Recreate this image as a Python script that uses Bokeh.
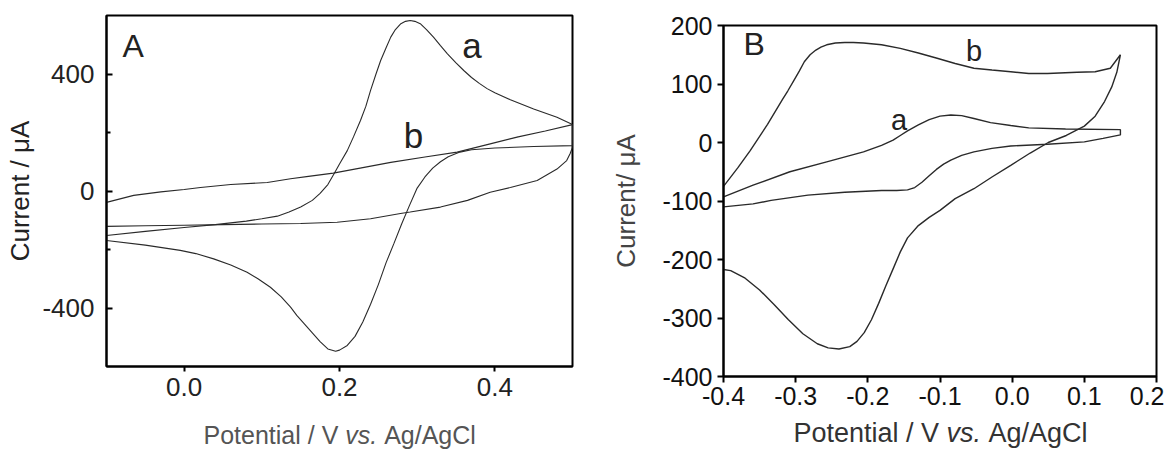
from bokeh.plotting import figure
from bokeh.layouts import row, column
from bokeh.models import FixedTicker, NumeralTickFormatter, Label, Range1d, Spacer
from bokeh.core.properties import value
from bokeh.embed import file_html
from bokeh.resources import INLINE

FONT = "Liberation Sans"

# ---------------- Panel A data (Potential V, Current uA) ----------------
A_a_fwd_v = [-0.1, -0.05, 0.0, 0.04, 0.08, 0.1, 0.12, 0.135, 0.15, 0.165, 0.175, 0.185, 0.193,
             0.2, 0.21, 0.218, 0.227, 0.234, 0.24, 0.247, 0.253, 0.26, 0.266, 0.272, 0.279,
             0.285, 0.291, 0.297, 0.304, 0.312, 0.321, 0.33, 0.339, 0.35, 0.36, 0.37, 0.38,
             0.39, 0.40, 0.42, 0.45, 0.48, 0.5]
A_a_fwd_i = [-152, -138, -125, -115, -103, -95, -86, -72, -55, -32, -8, 22, 59,
             92, 138, 185, 241, 290, 344, 400, 446, 490, 526, 552, 572,
             580, 583, 580, 572, 552, 526, 497, 469, 438, 412, 388, 368,
             350, 336, 312, 280, 252, 227]
A_a_rev_v = [0.5, 0.45, 0.40, 0.37, 0.355, 0.34, 0.33, 0.32, 0.31, 0.30, 0.29, 0.28, 0.27,
             0.26, 0.25, 0.24, 0.23, 0.22, 0.21, 0.2, 0.195, 0.185, 0.175, 0.165, 0.155,
             0.145, 0.137, 0.125, 0.111, 0.095, 0.081, 0.06, 0.038, 0.015, -0.005, -0.05, -0.1]
A_a_rev_i = [155, 152, 147, 141, 133, 117, 100, 78, 48, 10, -50, -113, -180,
             -245, -320, -387, -448, -497, -528, -544, -548, -540, -515, -485, -455,
             -425, -397, -362, -329, -300, -278, -253, -232, -214, -203, -185, -169]

A_b_fwd_v = [-0.1, -0.065, -0.03, 0.0, 0.021, 0.06, 0.107, 0.137, 0.16, 0.192, 0.23, 0.266,
             0.31, 0.3515, 0.394, 0.43, 0.465, 0.5]
A_b_fwd_i = [-39, -15, -3, 5, 12, 22, 29, 42, 50, 61, 80, 98, 116, 133, 161, 185, 205, 227]
A_b_rev_v = [0.5, 0.497, 0.4925, 0.48, 0.4545, 0.42, 0.394, 0.3648, 0.33, 0.291, 0.2785, 0.24,
             0.197, 0.15, 0.1, 0.05, 0.0, -0.05, -0.1]
A_b_rev_i = [149, 128, 104, 75, 36, 12, -4, -32, -55, -72, -77, -95, -107, -111, -113, -115,
             -117, -119, -121]

A_x_ticks = [0.0, 0.2, 0.4]
A_y_ticks = [-400, 0, 400]
A_y_minor = [-200, 200]

# ---------------- Panel B data ----------------
B_b_fwd_v = [-0.4, -0.39, -0.37, -0.35, -0.33, -0.31, -0.29, -0.27, -0.255, -0.24, -0.225,
             -0.215, -0.205, -0.195, -0.185, -0.175, -0.165, -0.155, -0.145, -0.13, -0.115,
             -0.1, -0.079, -0.053, -0.028, -0.002, 0.025, 0.05, 0.075, 0.1, 0.115, 0.128,
             0.138, 0.145, 0.15]
B_b_fwd_i = [-217, -219, -232, -252, -277, -303, -327, -344, -351, -353, -349,
             -340, -325, -303, -275, -245, -216, -187, -163, -142, -128,
             -116, -96, -79, -59, -39, -18, 0, 12, 28, 45, 70,
             95, 120, 150]
B_b_rev_v = [0.15, 0.136, 0.115, 0.09, 0.049, 0.023, -0.002, -0.028, -0.053, -0.079, -0.104,
             -0.13, -0.155, -0.181, -0.206, -0.22, -0.232, -0.245, -0.257, -0.265, -0.272,
             -0.28, -0.288, -0.295, -0.303, -0.311, -0.318, -0.339, -0.363, -0.38, -0.4]
B_b_rev_i = [150, 127, 121, 120, 118, 118, 121, 124, 127, 135, 144,
             153, 161, 167, 170, 171, 171, 170, 167, 163, 158,
             150, 138, 122, 105, 88, 74, 31, -14, -43, -75]

B_a_fwd_v = [-0.4, -0.359, -0.308, -0.257, -0.206, -0.181, -0.165, -0.155, -0.145, -0.13,
             -0.115, -0.1, -0.085, -0.07, -0.053, -0.03, -0.002, 0.023, 0.074, 0.15]
B_a_fwd_i = [-93, -73, -50, -33, -16, -5, 4, 12, 20, 30, 39, 45, 47, 46, 41, 34, 29, 25, 23, 22]
B_a_rev_v = [0.15, 0.126, 0.1, 0.049, -0.002, -0.028, -0.053, -0.07, -0.085, -0.095, -0.105,
             -0.115, -0.125, -0.135, -0.145, -0.16, -0.181, -0.232, -0.283, -0.334, -0.359, -0.4]
B_a_rev_i = [13, 7, 1, -3, -6, -10, -16, -22, -30, -37, -46,
             -57, -68, -77, -81, -82, -82, -85, -90, -99, -105, -110]

B_x_ticks = [-0.4, -0.3, -0.2, -0.1, 0.0, 0.1, 0.2]
B_y_ticks = [-400, -300, -200, -100, 0, 100, 200]

X_TITLE_PARTS = ["Potential / V", "vs.", "Ag/AgCl"]
X_TITLE_STYLES = ["normal", "italic", "normal"]


def base_fig(width, height, xr, yr, mb_left, mb_right, mb_top, mb_bottom):
    p = figure(width=width, height=height, x_range=Range1d(*xr), y_range=Range1d(*yr),
               output_backend="svg", toolbar_location=None, title=None,
               min_border_left=mb_left, min_border_right=mb_right,
               min_border_top=mb_top, min_border_bottom=mb_bottom)
    p.grid.visible = False
    p.outline_line_color = "black"
    p.outline_line_width = 2
    p.background_fill_color = "white"
    p.border_fill_color = "white"
    for ax in (p.xaxis[0], p.yaxis[0]):
        ax.axis_line_width = 2
        ax.axis_line_color = "black"
        ax.major_tick_line_width = 2
        ax.minor_tick_line_width = 2
        ax.major_label_text_font = FONT
        ax.axis_label_text_font = FONT
        ax.axis_label_text_font_style = "normal"
    return p


def title_strip(width, height, xrange, mb_left, mb_right, xs, ybase, size, color):
    s = figure(width=width, height=height, x_range=xrange, y_range=Range1d(0, height),
               output_backend="svg", toolbar_location=None, title=None,
               x_axis_type=None, y_axis_type=None,
               min_border_left=mb_left, min_border_right=mb_right,
               min_border_top=0, min_border_bottom=0)
    s.grid.visible = False
    s.outline_line_color = None
    s.background_fill_color = "white"
    s.border_fill_color = "white"
    for xpos, txt, style in zip(xs, X_TITLE_PARTS, X_TITLE_STYLES):
        s.text(x=[xpos], y=[ybase], text=[txt], text_font=value(FONT),
               text_font_size=value(size), text_font_style=value(style),
               text_color=color, text_align=value("left"), text_baseline=value("alphabetic"))
    return s


# ---------------- Panel A ----------------
pA = base_fig(590, 408, (-0.1, 0.5), (-600, 600), 106, 18, 15, 42)
pA.line(A_a_fwd_v + A_a_rev_v, A_a_fwd_i + A_a_rev_i, line_color="#2a2a2a", line_width=1.1)
pA.line(A_b_fwd_v + A_b_rev_v, A_b_fwd_i + A_b_rev_i, line_color="#2a2a2a", line_width=1.1)

xa = pA.xaxis[0]
xa.ticker = FixedTicker(ticks=A_x_ticks, minor_ticks=[])
xa.formatter = NumeralTickFormatter(format="0.0")
xa.major_tick_in = 0
xa.major_tick_out = 5
xa.major_label_standoff = 6
xa.major_label_text_font_size = "26px"
xa.major_label_text_color = "#222222"

ya = pA.yaxis[0]
ya.ticker = FixedTicker(ticks=A_y_ticks, minor_ticks=A_y_minor)
ya.major_label_overrides = {t: str(t) for t in A_y_ticks}
ya.major_tick_in = 6
ya.major_tick_out = 0
ya.minor_tick_in = 4
ya.minor_tick_out = 0
ya.major_label_standoff = 12
ya.major_label_text_font_size = "26px"
ya.major_label_text_color = "#222222"
ya.axis_label = "Current / \u03bcA"
ya.axis_label_text_font_size = "26px"
ya.axis_label_text_color = "#222222"
ya.axis_label_standoff = 4

for x, y, t, fs in [(-0.0794, 497, "A", "32px"), (0.358, 497, "a", "35px"), (0.2828, 190, "b", "35px")]:
    pA.add_layout(Label(x=x, y=y, text=t, text_font=FONT, text_font_size=fs,
                        text_baseline="alphabetic", text_align="left", text_color="#222222"))

stripA = title_strip(590, 41, pA.x_range, 106, 18, [0.0249, 0.2074, 0.2575], 15, "25px", "#555555")

# ---------------- Panel B ----------------
pB = base_fig(574, 408, (-0.4, 0.2), (-400, 200), 133, 8, 15, 42)
pB.line(B_b_fwd_v + B_b_rev_v, B_b_fwd_i + B_b_rev_i, line_color="#2a2a2a", line_width=1.4)
pB.line(B_a_fwd_v + B_a_rev_v, B_a_fwd_i + B_a_rev_i, line_color="#2a2a2a", line_width=1.4)

xb = pB.xaxis[0]
xb.ticker = FixedTicker(ticks=B_x_ticks, minor_ticks=[])
xb.formatter = NumeralTickFormatter(format="0.0")
xb.major_tick_in = 0
xb.major_tick_out = 6
xb.major_label_standoff = 4
xb.major_label_text_font_size = "25px"
xb.major_label_text_color = "#111111"

yb = pB.yaxis[0]
yb.ticker = FixedTicker(ticks=B_y_ticks, minor_ticks=[])
yb.major_label_overrides = {t: str(t) for t in B_y_ticks}
yb.major_tick_in = 0
yb.major_tick_out = 6
yb.major_label_standoff = 5
yb.major_label_text_font_size = "25px"
yb.major_label_text_color = "#111111"
yb.axis_label = "Current/ \u03bcA"
yb.axis_label_text_font_size = "26px"
yb.axis_label_text_color = "#444444"
yb.axis_label_standoff = 18

for x, y, t, fs in [(-0.3723, 169, "B", "32px"), (-0.064, 157, "b", "29px"), (-0.168, 38, "a", "29px")]:
    pB.add_layout(Label(x=x, y=y, text=t, text_font=FONT, text_font_size=fs,
                        text_baseline="alphabetic", text_align="left", text_color="#222222"))

stripB = title_strip(574, 31, pB.x_range, 133, 8, [-0.303, -0.0909, -0.0327], 17, "27px", "#333333")

layout = row(column(pA, stripA), column(Spacer(width=574, height=10), pB, stripB))
open("out.html", "w").write(file_html(layout, INLINE))
